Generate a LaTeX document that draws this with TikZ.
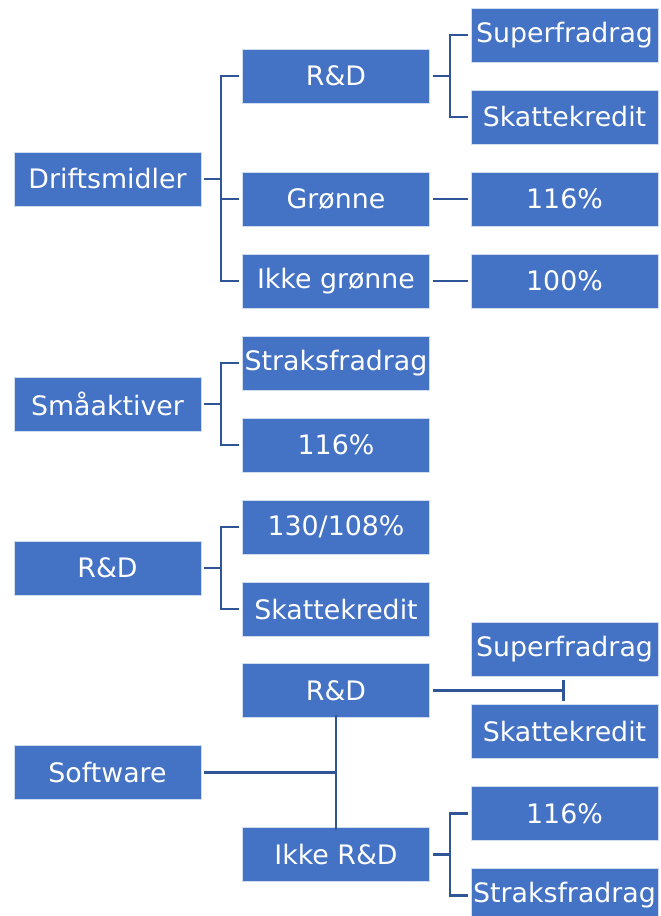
\documentclass[tikz,border=0pt]{standalone}
\usepackage{fontspec}
\setmainfont{DejaVu Sans}
\usetikzlibrary{arrows.meta}
\definecolor{boxblue}{HTML}{4472C4}
\definecolor{linkblue}{HTML}{2F5597}
\begin{document}
\begin{tikzpicture}[x=1pt,y=-1pt,
  bx/.style={fill=boxblue,draw=white!75!boxblue,line width=0.6pt,text=white,minimum width=187pt,minimum height=54pt,inner sep=0pt,font=\fontsize{26.8}{30}\selectfont},
  conn/.style={draw=linkblue,line width=2.3pt}]
\useasboundingbox (0,0) rectangle (661,916);
% column 1
\node[bx] (dm) at (107.5,179) {Driftsmidler};
\node[bx] (sa) at (107.5,404) {Småaktiver};
\node[bx] (rd) at (107.5,568) {R\&D};
\node[bx] (sw) at (107.5,772.5) {Software};
% column 2
\node[bx] (rd1) at (336,76) {R\&D};
\node[bx] (gr) at (336,199) {Grønne};
\node[bx] (ig) at (336,281) {Ikke grønne};
\node[bx] (sf1) at (336,363) {Straksfradrag};
\node[bx] (p1) at (336,445) {116\%};
\node[bx] (p2) at (336,527) {130/108\%};
\node[bx] (sk1) at (336,609) {Skattekredit};
\node[bx] (rd4) at (336,690.5) {R\&D};
\node[bx] (ikr) at (336,854.5) {Ikke R\&D};
% column 3
\node[bx] (su1) at (564.5,35) {Superfradrag};
\node[bx] (sk2) at (564.5,117) {Skattekredit};
\node[bx] (p3) at (564.5,199) {116\%};
\node[bx] (p4) at (564.5,281) {100\%};
\node[bx] (su2) at (564.5,649.5) {Superfradrag};
\node[bx] (sk3) at (564.5,731.5) {Skattekredit};
\node[bx] (p5) at (564.5,813.5) {116\%};
\node[bx] (sf2) at (564.5,895.5) {Straksfradrag};
% connectors: Driftsmidler
\draw[conn] ([xshift=3pt]dm.east) -- ([xshift=20pt]dm.east);
\draw[conn] ([xshift=-3pt]rd1.west) -- ([xshift=-21pt]rd1.west) -- ([xshift=-21pt]ig.west) -- ([xshift=-3pt]ig.west);
\draw[conn] ([xshift=-21pt]gr.west) -- ([xshift=-3pt]gr.west);
% R&D -> Superfradrag / Skattekredit
\draw[conn] ([xshift=3pt]rd1.east) -- ([xshift=20pt]rd1.east);
\draw[conn] ([xshift=-3pt]su1.west) -- ([xshift=-21pt]su1.west) -- ([xshift=-21pt]sk2.west) -- ([xshift=-3pt]sk2.west);
% Grønne, Ikke grønne
\draw[conn] ([xshift=3pt]gr.east) -- ([xshift=-3pt]p3.west);
\draw[conn] ([xshift=3pt]ig.east) -- ([xshift=-3pt]p4.west);
% Småaktiver
\draw[conn] ([xshift=3pt]sa.east) -- ([xshift=20pt]sa.east);
\draw[conn] ([xshift=-3pt]sf1.west) -- ([xshift=-21pt]sf1.west) -- ([xshift=-21pt]p1.west) -- ([xshift=-3pt]p1.west);
% R&D
\draw[conn] ([xshift=3pt]rd.east) -- ([xshift=20pt]rd.east);
\draw[conn] ([xshift=-3pt]p2.west) -- ([xshift=-21pt]p2.west) -- ([xshift=-21pt]sk1.west) -- ([xshift=-3pt]sk1.west);
% Software
\draw[conn] ([xshift=3pt]sw.east) -- (rd4.south |- sw.east);
\draw[conn] ([yshift=3pt]rd4.south) -- ([yshift=-3pt]ikr.north);
\draw[conn,-{Bar[width=21pt,line width=2.3pt]}] ([xshift=3pt]rd4.east) -- (su2.south |- rd4.east);
% Ikke R&D
\draw[conn] ([xshift=3pt]ikr.east) -- ([xshift=20pt]ikr.east);
\draw[conn] ([xshift=-3pt]p5.west) -- ([xshift=-21pt]p5.west) -- ([xshift=-21pt]sf2.west) -- ([xshift=-3pt]sf2.west);
\end{tikzpicture}
\end{document}
